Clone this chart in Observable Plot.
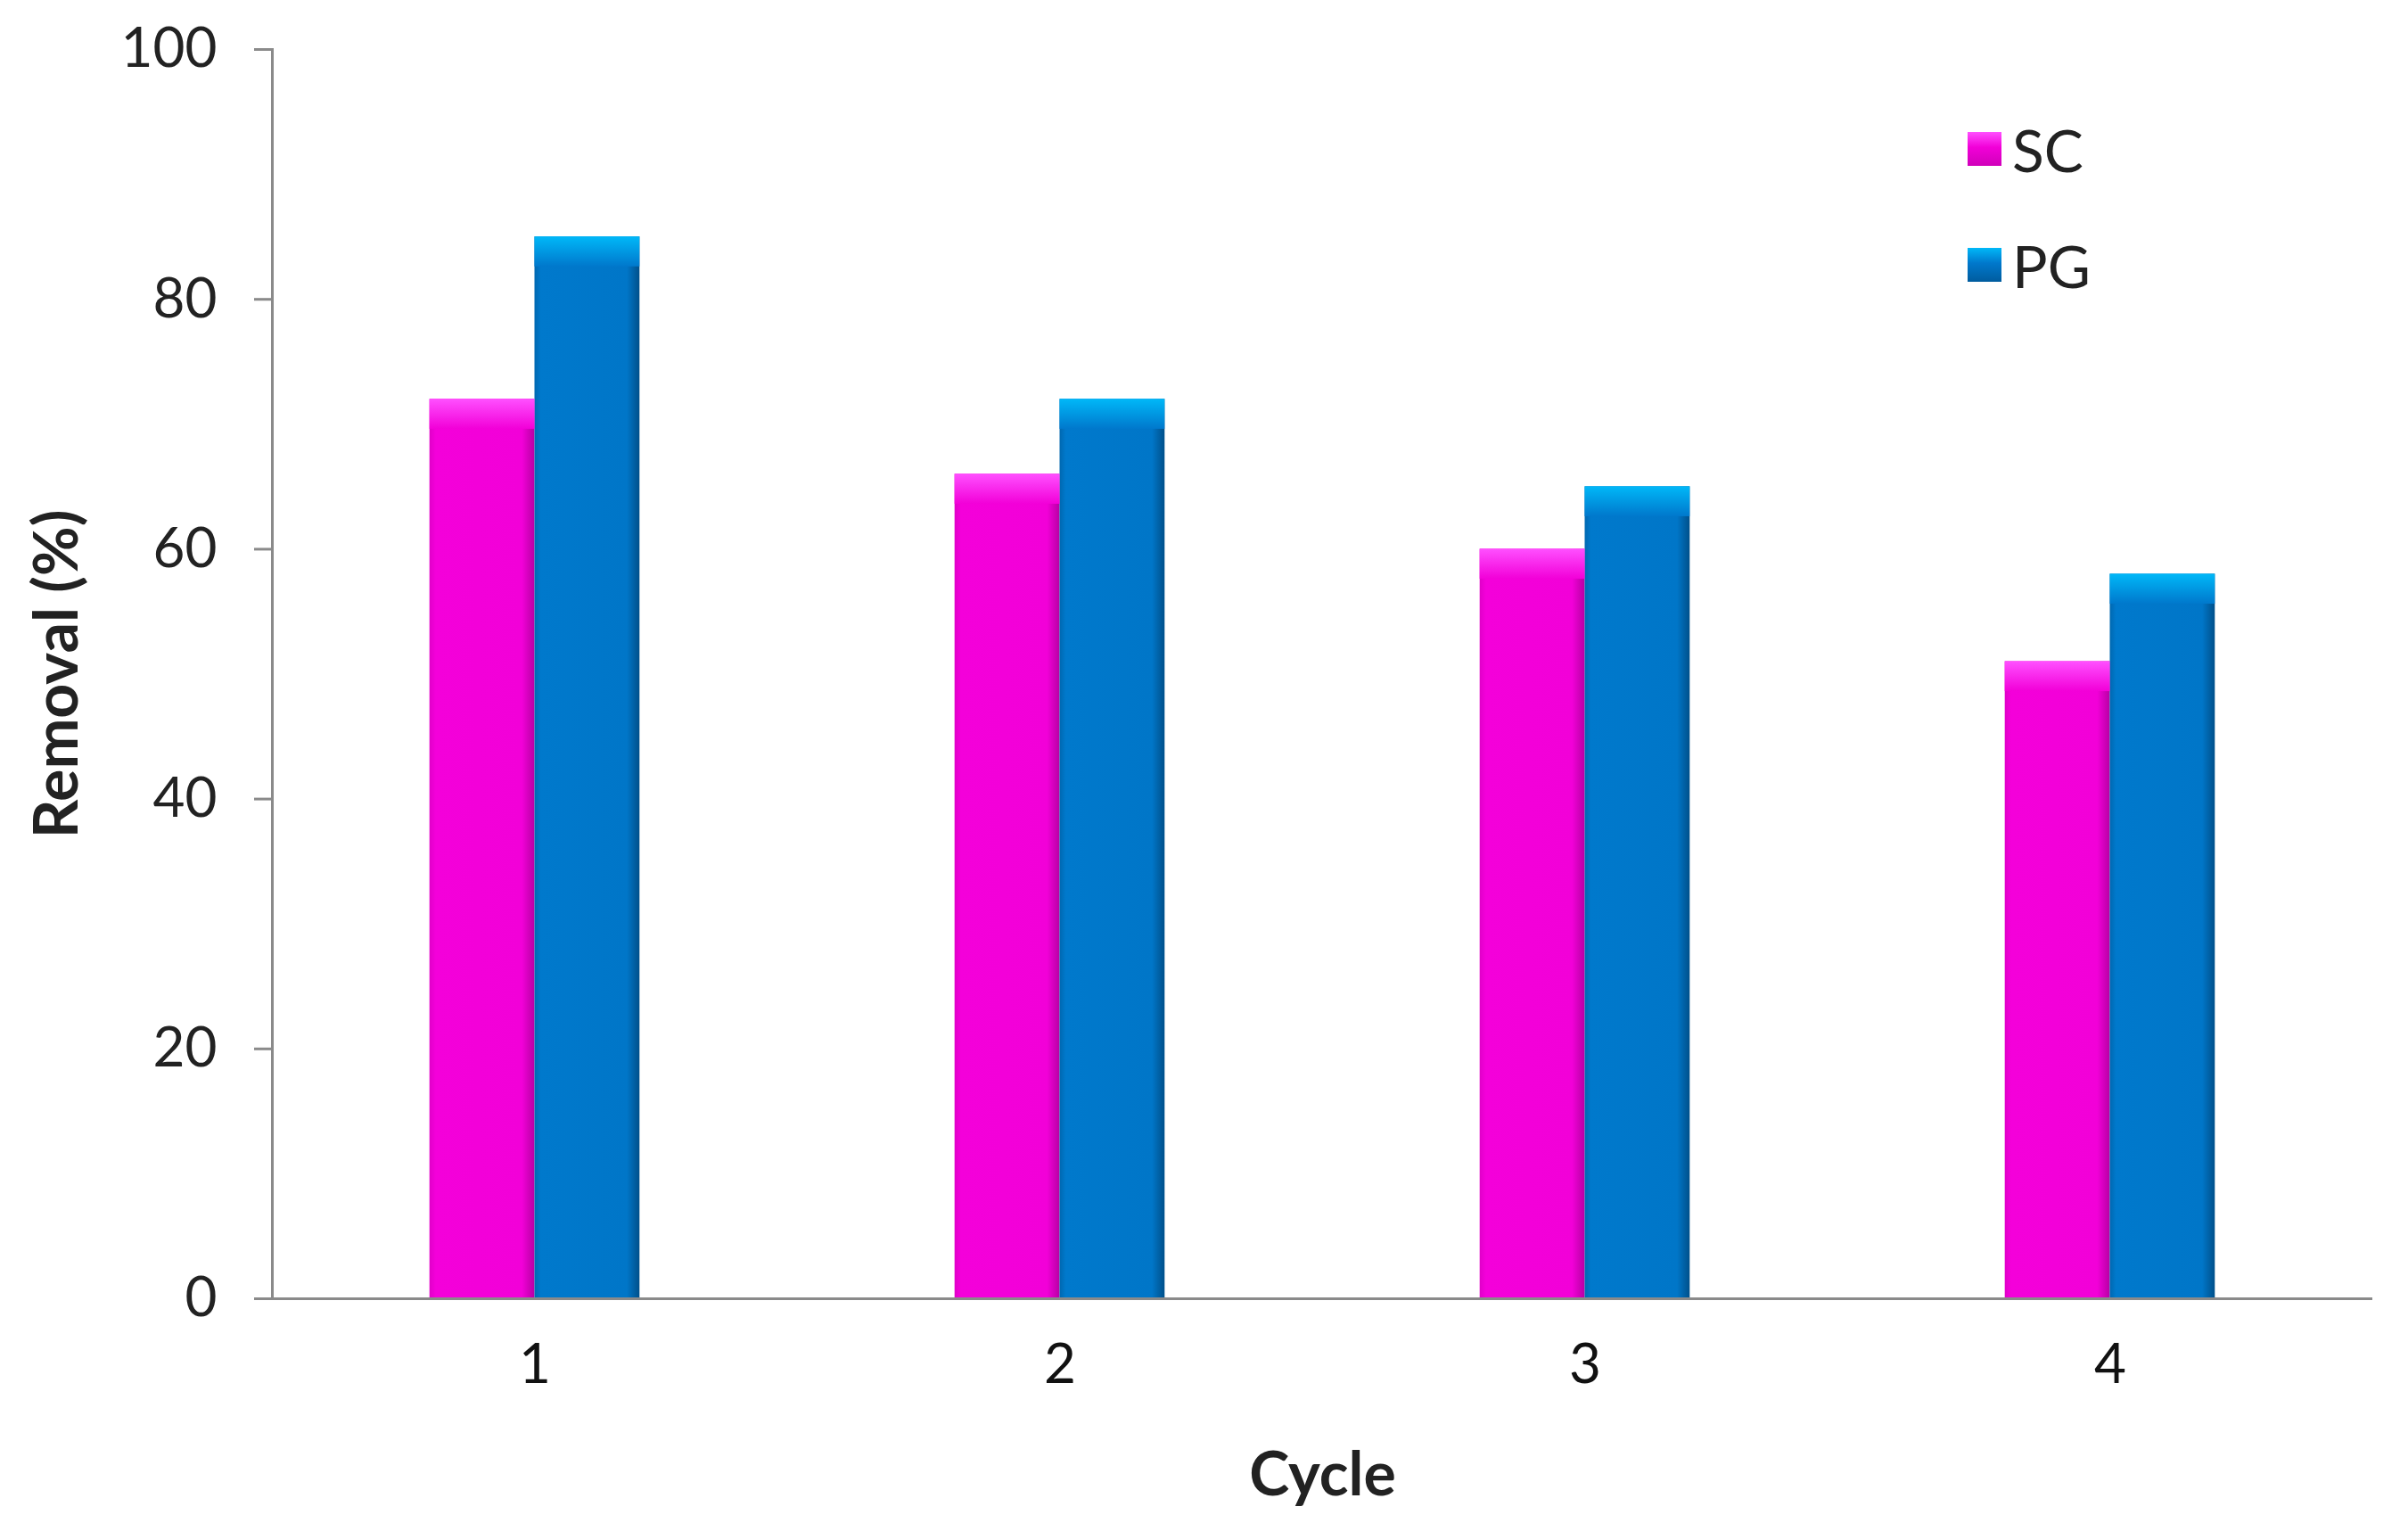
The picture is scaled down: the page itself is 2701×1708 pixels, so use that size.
<!DOCTYPE html>
<html>
<head>
<meta charset="utf-8">
<script src="https://cdn.jsdelivr.net/npm/d3@7"></script>
<script src="https://cdn.jsdelivr.net/npm/@observablehq/plot@0.6"></script>
<style>
  html, body { margin: 0; padding: 0; background: #fff; }
  #wrap { position: relative; width: 2701px; height: 1708px; font-family: Lato, "Open Sans", sans-serif; }
  #legend { position: absolute; left: 2207px; top: 131px; font-size: 66px; color: #222; }
  .item { display: flex; align-items: center; height: 72px; margin-bottom: 58px; }
  .sw { width: 38px; height: 38px; margin-right: 12px; }
</style>
</head>
<body>
<div id="wrap"></div>
<script>
const cycles = [1, 2, 3, 4];
const seriesNames = ["SC", "PG"];
const scValues = [72, 66, 60, 51];
const pgValues = [85, 72, 65, 58];
const seriesColors = ["#f200d8", "#0078cc"];
const yTicks = [0, 20, 40, 60, 80, 100];

const data = cycles.flatMap((c, i) => [
  {cycle: c, series: "SC", value: scValues[i], side: -1},
  {cycle: c, series: "PG", value: pgValues[i], side: 0}
]);

const halfGroup = 0.2;
const bodyFill = {SC: "url(#scBody)", PG: "url(#pgBody)"};
const topFill = {SC: "url(#scTop)", PG: "url(#pgTop)"};

const chart = Plot.plot({
  width: 2701,
  height: 1708,
  marginLeft: 305,
  marginRight: 40,
  marginTop: 55,
  marginBottom: 252,
  style: {fontFamily: "Lato, 'Open Sans', sans-serif", color: "#222", background: "#fff"},
  x: {domain: [0.5, 4.5], type: "linear"},
  y: {domain: [0, 100]},
  marks: [
    Plot.rectY(data, {
      x1: d => d.cycle + d.side * halfGroup,
      x2: d => d.cycle + (d.side + 1) * halfGroup,
      y1: 0, y2: "value",
      fill: d => bodyFill[d.series],
      style: "filter:url(#shadow)"
    }),
    Plot.rectY(data, {
      x1: d => d.cycle + d.side * halfGroup,
      x2: d => d.cycle + (d.side + 1) * halfGroup,
      y1: d => d.value - 2.4, y2: "value",
      fill: d => topFill[d.series]
    }),
    Plot.frame({anchor: "left", stroke: "#8a8a8a", strokeWidth: 3}),
    Plot.ruleY([0], {stroke: "#8a8a8a", strokeWidth: 3}),
    Plot.axisY({ticks: yTicks, tickSize: 20, tickPadding: 42, fontSize: 62, stroke: "#8a8a8a", strokeWidth: 3, label: null, fill: "#222"}),
    Plot.axisX({ticks: cycles, tickSize: 0, tickPadding: 50, fontSize: 62, label: null, tickFormat: d => String(d), fill: "#111"}),
    Plot.text(["Removal (%)"], {frameAnchor: "left", textAnchor: "middle", dx: -240, rotate: -90, fontWeight: "bold", fontSize: 68, fill: "#222"}),
    Plot.text(["Cycle"], {frameAnchor: "bottom", textAnchor: "middle", dy: 220, fontWeight: "bold", fontSize: 68, fill: "#222"})
  ]
});

const defs = `
<defs>
  <linearGradient id="scBody" x1="0" x2="1" y1="0" y2="0">
    <stop offset="0" stop-color="#e000c8"/>
    <stop offset="0.06" stop-color="#f400da"/>
    <stop offset="0.88" stop-color="#f200d8"/>
    <stop offset="1" stop-color="#b800a4"/>
  </linearGradient>
  <linearGradient id="pgBody" x1="0" x2="1" y1="0" y2="0">
    <stop offset="0" stop-color="#0068b0"/>
    <stop offset="0.06" stop-color="#0079cc"/>
    <stop offset="0.88" stop-color="#0076c8"/>
    <stop offset="1" stop-color="#00508a"/>
  </linearGradient>
  <linearGradient id="scTop" x1="0" x2="0" y1="0" y2="1">
    <stop offset="0" stop-color="#ff50ff"/>
    <stop offset="1" stop-color="#f200d8"/>
  </linearGradient>
  <linearGradient id="pgTop" x1="0" x2="0" y1="0" y2="1">
    <stop offset="0" stop-color="#00b8f8"/>
    <stop offset="1" stop-color="#0078cc"/>
  </linearGradient>
  <filter id="shadow" x="-20%" y="-5%" width="140%" height="110%">
    <feDropShadow dx="3" dy="0" stdDeviation="6" flood-color="#999" flood-opacity="0.45"/>
  </filter>
</defs>`;
chart.insertAdjacentHTML("afterbegin", defs);

const wrap = document.getElementById("wrap");
wrap.appendChild(chart);

const legend = document.createElement("div");
legend.id = "legend";
const swGrad = {
  SC: "linear-gradient(#ff50ff, #f200d8 45%, #d000ba)",
  PG: "linear-gradient(#00b8f8, #0078cc 45%, #005c9e)"
};
seriesNames.forEach((s, i) => {
  const item = document.createElement("div");
  item.className = "item";
  const sw = document.createElement("span");
  sw.className = "sw";
  sw.style.background = swGrad[s];
  const label = document.createElement("span");
  label.textContent = s;
  item.appendChild(sw);
  item.appendChild(label);
  legend.appendChild(item);
});
wrap.appendChild(legend);
</script>
</body>
</html>
